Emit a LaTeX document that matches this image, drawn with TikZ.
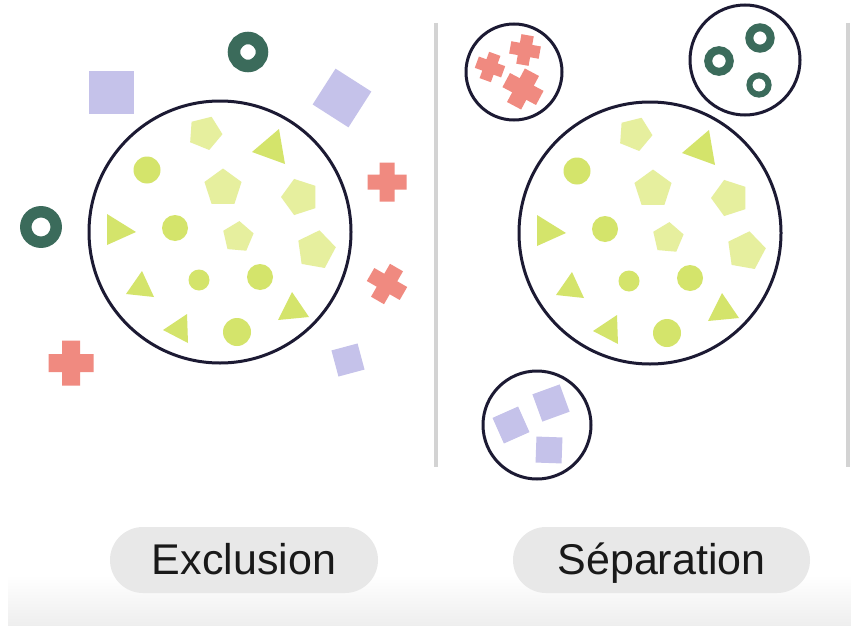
\documentclass[tikz,border=0pt]{standalone}
\usepackage{fontspec}
\setmainfont{Liberation Sans}
\usetikzlibrary{shapes.geometric}
\definecolor{ringgreen}{HTML}{3B6B5B}
\definecolor{lav}{HTML}{C5C2EA}
\definecolor{salmon}{HTML}{F08A80}
\definecolor{lime}{HTML}{D4E46B}
\definecolor{palelime}{HTML}{E6EF9E}
\definecolor{outline}{HTML}{1C1A33}
\definecolor{sepgray}{HTML}{D3D3D3}
\definecolor{pillgray}{HTML}{E8E8E8}
\definecolor{fadegray}{HTML}{EEEEEE}
\newcommand\Pent[4]{\fill[palelime,shift={(#1,#2)}] (#4:#3) -- (#4+72:#3) -- (#4+144:#3) -- (#4+216:#3) -- (#4+288:#3) -- cycle;}
\newcommand\Dot[3]{\fill[lime] (#1,#2) circle[radius=#3];}
\newcommand\Tri[6]{\fill[lime] (#1,#2) -- (#3,#4) -- (#5,#6) -- cycle;}
\newcommand\Ring[4]{\draw[ringgreen,line width=#4] (#1,#2) circle[radius=#3];}
\newcommand\Plus[5]{\fill[salmon,shift={(#1,#2)},rotate=-#5] (-#3/2,-#4/2) rectangle (#3/2,#4/2) (-#4/2,-#3/2) rectangle (#4/2,#3/2);}
\newcommand\Sq[4]{\fill[lav,shift={(#1,#2)},rotate=-#4] (-#3/2,-#3/2) rectangle (#3/2,#3/2);}
\newcommand\Inner{%
  \draw[outline,line width=3pt] (220,232) circle[radius=131];
  \Pent{205}{133}{17.5}{4}
  \Pent{223}{188}{19.5}{-90}
  \Pent{300}{197}{19}{-108}
  \Pent{238}{237}{16}{-85}
  \Pent{316}{250}{20}{-80}
  \Tri{252}{152}{279}{129}{285}{164}
  \Tri{107}{214}{136}{232}{107}{245}
  \Tri{126}{294}{142}{271}{154}{297}
  \Tri{278}{320}{292}{292}{309}{317}
  \Tri{163}{330}{187}{314}{188}{343}
  \Dot{147}{170}{13.5}
  \Dot{175}{228}{13}
  \Dot{199}{280}{10.5}
  \Dot{260}{277}{13}
  \Dot{237}{332}{14}
}
\tikzset{pill/.style={fill=pillgray,rounded corners=33pt,minimum height=66pt,inner sep=0pt,text height=38pt,text depth=10pt,text=black!90,font=\fontsize{43}{50}\selectfont}}
\begin{document}
\begin{tikzpicture}[x=1pt,y=-1pt]
\useasboundingbox (0,0) rectangle (851,626);
\fill[white] (0,0) rectangle (851,626);
\shade[top color=white,bottom color=fadegray] (8,575) rectangle (851,626);
% separators
\draw[sepgray,line width=4pt] (436,23) -- (436,467);
\draw[sepgray,line width=4pt] (848,23) -- (848,467);
% left panel
\Inner
\Ring{248}{52}{14}{12.5pt}
\Ring{41}{227}{15.2}{11.5pt}
\fill[lav] (89,71) rectangle (134,114);
\Sq{342}{98}{42.5}{32.6}
\Sq{348}{360}{27}{-15}
\Plus{387}{182}{39}{15}{0}
\Plus{387}{284}{38}{15}{30}
\Plus{71}{363}{45}{18}{0}
% right panel
\begin{scope}[shift={(430,1)}]
\Inner
\end{scope}
\draw[outline,line width=3pt] (514,72) circle[radius=48];
\Plus{490}{67}{28}{12}{20}
\Plus{525}{50}{30}{12.5}{10}
\Plus{523}{89}{38}{16}{28}
\draw[outline,line width=3pt] (745,60) circle[radius=55];
\Ring{719}{61}{10.8}{8pt}
\Ring{760}{38}{10.7}{8pt}
\Ring{759}{85}{9.6}{6pt}
\draw[outline,line width=3pt] (537,425) circle[radius=54];
\Sq{511}{425}{28}{-24}
\Sq{551}{403}{29}{-20}
\Sq{549}{450}{26}{2}
% labels
\node[pill,minimum width=268pt] (excl) at (244,560) {Exclusion};
\node[pill,minimum width=297pt] (sep) at (661.5,560) {Séparation};
\end{tikzpicture}
\end{document}
